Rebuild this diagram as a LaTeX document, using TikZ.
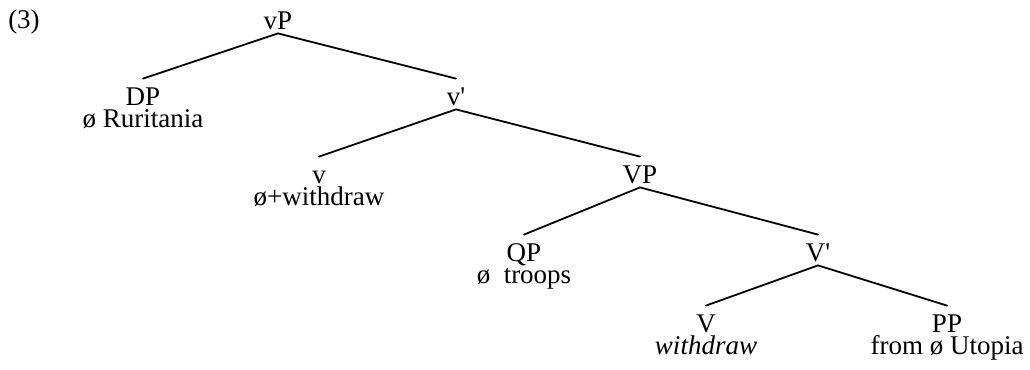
\documentclass[tikz,border=0pt]{standalone}
\usepackage{fontspec}
\setmainfont{Liberation Serif}[Ligatures=TeXOff]
\usetikzlibrary{positioning}
\tikzset{
  catnode/.style={inner xsep=1pt, inner ysep=2pt, text height=11pt, text depth=0pt,
                  anchor=base, font=\fontsize{13.5}{11}\selectfont},
  wordnode/.style={inner sep=0pt, anchor=base, font=\fontsize{13.5}{11}\selectfont},
  branch/.style={line width=0.9pt, line cap=round},
}
\begin{document}
\begin{tikzpicture}[x=0.5pt, y=-0.5pt]
  \useasboundingbox (0,0) rectangle (1030,370);

  %% EXAMPLE NUMBER
  \node[wordnode] (num) at (24,28) {(3)};

  %% CATEGORY NODES
  \node[catnode] (vP)  at (278,29)  {vP};
  \node[catnode] (DP)  at (143,105) {DP};
  \node[catnode] (vb)  at (456,105) {v'};
  \node[catnode] (v)   at (319,183) {v};
  \node[catnode] (VP)  at (640,183) {VP};
  \node[catnode] (QP)  at (524,261) {QP};
  \node[catnode] (Vb)  at (818,261) {V'};
  \node[catnode] (V)   at (706,332) {V};
  \node[catnode] (PP)  at (947,332) {PP};

  %% LEXICAL MATERIAL
  \node[wordnode] (DPw) at ([yshift=-11pt]DP.base) {ø Ruritania};
  \node[wordnode] (vw)  at ([yshift=-11pt]v.base)  {ø+withdraw};
  \node[wordnode] (QPw) at ([yshift=-11pt]QP.base) {ø~~troops};
  \node[wordnode] (Vw)  at ([yshift=-11pt]V.base)  {\textit{withdraw}};
  \node[wordnode] (PPw) at ([yshift=-11pt]PP.base) {from ø Utopia};

  %% BRANCHES
  \draw[branch] (DP.north) -- (vP.south) -- (vb.north);
  \draw[branch] (v.north)  -- (vb.south) -- (VP.north);
  \draw[branch] (QP.north) -- (VP.south) -- (Vb.north);
  \draw[branch] (V.north)  -- (Vb.south) -- (PP.north);

\end{tikzpicture}
\end{document}
